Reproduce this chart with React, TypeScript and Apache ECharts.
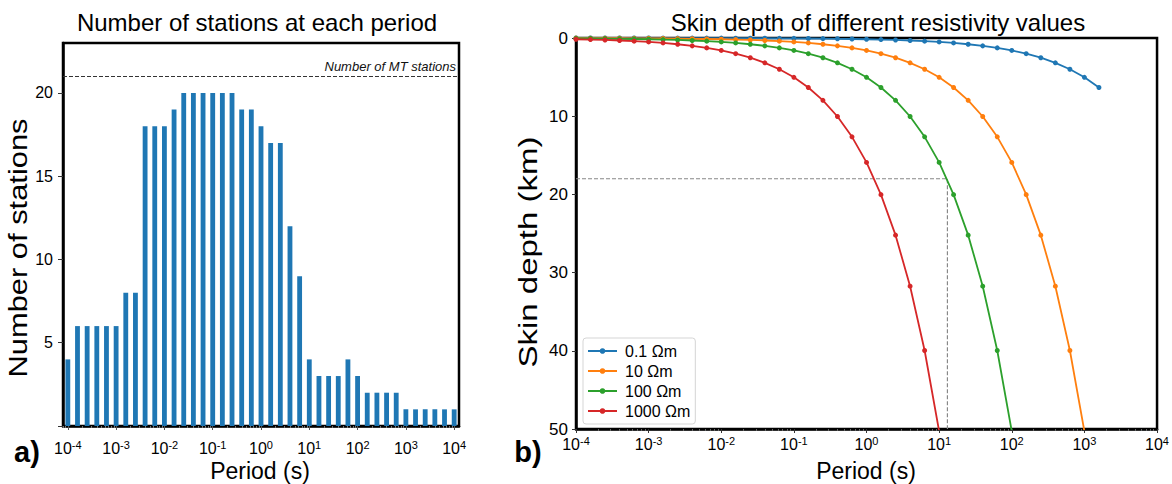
import React, { useEffect, useRef } from 'react';
import * as echarts from 'echarts';

// Periods (s), five per decade from 1e-4 to 1e4
const periods = [
  0.0001, 0.000158, 0.000251, 0.000398, 0.000631,
  0.001, 0.00158, 0.00251, 0.00398, 0.00631,
  0.01, 0.0158, 0.0251, 0.0398, 0.0631,
  0.1, 0.158, 0.251, 0.398, 0.631,
  1, 1.58, 2.51, 3.98, 6.31,
  10, 15.8, 25.1, 39.8, 63.1,
  100, 158, 251, 398, 631,
  1000, 1585, 2512, 3981, 6310,
  10000,
];

// Number of stations at each period (panel a)
const stationCounts = [
  4, 6, 6, 6, 6, 6, 8, 8, 18, 18, 18, 19, 20, 20, 20, 20, 20, 20, 19, 19,
  18, 17, 17, 12, 9, 4, 3, 3, 3, 4, 3, 2, 2, 2, 2, 1, 1, 1, 1, 1, 1,
];
const mtStations = 21;
const countTicks = [0, 5, 10, 15, 20];
const countLabels = [5, 10, 15, 20];

// Skin depth (km) at each period (panel b)
const depth01 = [
  0.002, 0.002, 0.003, 0.003, 0.004, 0.005, 0.006, 0.008, 0.01, 0.013,
  0.016, 0.02, 0.025, 0.032, 0.04, 0.05, 0.063, 0.08, 0.1, 0.126,
  0.159, 0.2, 0.252, 0.317, 0.4, 0.503, 0.633, 0.797, 1.004, 1.263,
  1.591, 2.003, 2.521, 3.174, 3.995, 5.03, 6.33,
];
const depth10 = [
  0.016, 0.02, 0.025, 0.032, 0.04, 0.05, 0.063, 0.08, 0.1, 0.126,
  0.159, 0.2, 0.252, 0.317, 0.4, 0.503, 0.633, 0.797, 1.004, 1.263,
  1.591, 2.003, 2.521, 3.174, 3.995, 5.03, 6.332, 7.972, 10.04, 12.64,
  15.91, 20.03, 25.21, 31.74, 39.96, 50.3,
];
const depth100 = [
  0.05, 0.063, 0.08, 0.1, 0.126, 0.159, 0.2, 0.252, 0.317, 0.4,
  0.503, 0.633, 0.797, 1.004, 1.263, 1.591, 2.003, 2.521, 3.174, 3.995,
  5.03, 6.332, 7.972, 10.04, 12.64, 15.91, 20.03, 25.21, 31.74, 39.96,
  50.3,
];
const depth1000 = [
  0.159, 0.2, 0.252, 0.317, 0.4, 0.503, 0.633, 0.797, 1.004, 1.263,
  1.591, 2.003, 2.521, 3.174, 3.995, 5.03, 6.332, 7.972, 10.04, 12.64,
  15.91, 20.03, 25.21, 31.74, 39.96, 50.3,
];
const seriesNames = ['0.1 Ωm', '10 Ωm', '100 Ωm', '1000 Ωm'];
const seriesColors = ['#1f77b4', '#ff7f0e', '#2ca02c', '#d62728'];
const seriesDepths = [depth01, depth10, depth100, depth1000];

// reference point marked with dashed lines
const refPeriod = 13;
const refDepth = 18;

// tick exponents
const majorExp = [-4, -3, -2, -1, 0, 1, 2, 3, 4];
const minorMult = [2, 3, 4, 5, 6, 7, 8, 9];

const FONT = "'Liberation Sans', Arial, Helvetica, sans-serif";

function minorTicks(lo: number, hi: number): number[] {
  const out: number[] = [];
  for (let e = -5; e <= 4; e++) {
    for (const m of minorMult) {
      const v = e + Math.log10(m);
      if (v > lo && v < hi) out.push(v);
    }
  }
  return out;
}

const supFormatter = (v: number) => `{b|10}{s|${Math.round(v)}}`;
const supRich = {
  b: { fontSize: 16, lineHeight: 19, color: '#000', fontFamily: FONT },
  s: { fontSize: 11, lineHeight: 12, color: '#000', verticalAlign: 'top', fontFamily: FONT },
};

export default function App() {
  const ref = useRef<HTMLDivElement>(null);
  useEffect(() => {
    if (!ref.current) return;
    const chart = echarts.init(ref.current, undefined, { renderer: 'svg' });

    const lineSeries = seriesNames.map((name, si) => ({
      name,
      type: 'line',
      xAxisIndex: 3,
      yAxisIndex: 1,
      data: seriesDepths[si].map((d, i) => [periods[i], d]),
      symbol: 'circle',
      symbolSize: 5,
      showSymbol: true,
      clip: true,
      color: seriesColors[si],
      lineStyle: { width: 1.8, color: seriesColors[si] },
      itemStyle: { color: seriesColors[si] },
      z: 3 + si,
    }));

    const option: any = {
      animation: false,
      textStyle: { fontFamily: FONT },
      grid: [
        { left: 63, top: 43, width: 396, height: 383, show: true, borderColor: '#000', borderWidth: 2.5, backgroundColor: 'rgba(0,0,0,0)', containLabel: false },
        { left: 576, top: 38, width: 583, height: 391, show: true, borderColor: '#000', borderWidth: 2.5, backgroundColor: 'rgba(0,0,0,0)', containLabel: false },
      ],
      xAxis: [
        { type: 'category', gridIndex: 0, data: periods.map(String), show: false, boundaryGap: true },
        {
          type: 'value', gridIndex: 0, min: -4.1, max: 4.1, position: 'bottom',
          axisLine: { show: true, onZero: false, lineStyle: { color: '#000', width: 2.5 } },
          splitLine: { show: false },
          axisTick: { show: true, customValues: majorExp, length: 4, lineStyle: { color: '#555', width: 1 } },
          axisLabel: { customValues: majorExp, formatter: supFormatter, rich: supRich, margin: 13 },
        },
        {
          type: 'value', gridIndex: 0, min: -4.1, max: 4.1, position: 'bottom',
          axisLine: { show: false, onZero: false }, splitLine: { show: false },
          axisTick: { show: true, customValues: minorTicks(-4.1, 4.1), length: 2, lineStyle: { color: '#777', width: 1 } },
          axisLabel: { show: false },
        },
        { type: 'log', gridIndex: 1, min: 0.0001, max: 10000, logBase: 10, show: false, axisLine: { onZero: false } },
        {
          type: 'value', gridIndex: 1, min: -4, max: 4, position: 'bottom',
          axisLine: { show: true, onZero: false, lineStyle: { color: '#000', width: 2.5 } },
          splitLine: { show: false },
          axisTick: { show: true, customValues: majorExp, length: 4, lineStyle: { color: '#333', width: 1 } },
          axisLabel: { customValues: majorExp, formatter: supFormatter, rich: supRich, margin: 6 },
        },
        {
          type: 'value', gridIndex: 1, min: -4, max: 4, position: 'bottom',
          axisLine: { show: false, onZero: false }, splitLine: { show: false },
          axisTick: { show: true, customValues: minorTicks(-4, 4), length: 2, lineStyle: { color: '#666', width: 1 } },
          axisLabel: { show: false },
        },
      ],
      yAxis: [
        {
          type: 'value', gridIndex: 0, min: 0, max: 23,
          axisLine: { show: true, onZero: false, lineStyle: { color: '#000', width: 2.5 } },
          axisTick: { show: true, length: 5, customValues: countTicks, lineStyle: { color: '#333' } },
          splitLine: { show: false },
          axisLabel: { fontSize: 16, color: '#000', margin: 10, customValues: countLabels },
        },
        {
          type: 'value', gridIndex: 1, min: 0, max: 50, interval: 10, inverse: true,
          axisLine: { show: true, onZero: false, lineStyle: { color: '#000', width: 2.5 } },
          axisTick: { show: true, length: 4, lineStyle: { color: '#333' } },
          splitLine: { show: false },
          axisLabel: { fontSize: 17, color: '#000', margin: 8 },
        },
      ],
      legend: {
        data: seriesNames,
        orient: 'vertical',
        left: 583,
        top: 338,
        itemWidth: 29,
        itemHeight: 7,
        itemGap: 4,
        padding: [5, 5, 5, 4],
        backgroundColor: '#fff',
        borderColor: '#d5d5d5',
        borderWidth: 1,
        borderRadius: 3,
        textStyle: { fontSize: 16, color: '#000', fontFamily: FONT, padding: [0, 0, 0, 3] },
      },
      series: [
        {
          type: 'bar',
          xAxisIndex: 0,
          yAxisIndex: 0,
          data: stationCounts,
          barWidth: '50%',
          itemStyle: { color: '#1f77b4' },
          markLine: {
            silent: true,
            symbol: 'none',
            data: [{ yAxis: mtStations }],
            lineStyle: { type: [4, 2], color: '#333', width: 1.2 },
            label: { position: 'insideEndTop', formatter: 'Number of MT stations', fontStyle: 'italic', fontSize: 13, color: '#111', distance: 3 },
          },
        },
        {
          type: 'line',
          name: 'ref',
          xAxisIndex: 3,
          yAxisIndex: 1,
          data: [[0.0001, refDepth], [refPeriod, refDepth], [refPeriod, 50]],
          symbol: 'none',
          silent: true,
          lineStyle: { type: [4, 2], color: '#888', width: 1.2 },
          z: 1,
        },
        ...lineSeries,
      ],
      graphic: [
        { type: 'text', x: 257, y: 22, style: { text: 'Number of stations at each period', fontSize: 24, fontFamily: FONT, fill: '#000', align: 'center', verticalAlign: 'middle' } },
        { type: 'text', x: 878, y: 22, style: { text: 'Skin depth of different resistivity values', fontSize: 24, fontFamily: FONT, fill: '#000', align: 'center', verticalAlign: 'middle' } },
        { type: 'text', x: 260, y: 471, style: { text: 'Period (s)', fontSize: 23, fontFamily: FONT, fill: '#000', align: 'center', verticalAlign: 'middle' } },
        { type: 'text', x: 866, y: 471, style: { text: 'Period (s)', fontSize: 23, fontFamily: FONT, fill: '#000', align: 'center', verticalAlign: 'middle' } },
        { type: 'text', x: 19, y: 248, rotation: Math.PI / 2, scaleX: 1.235, style: { text: 'Number of stations', fontSize: 25, fontFamily: FONT, fill: '#000', align: 'center', verticalAlign: 'middle' } },
        { type: 'text', x: 528, y: 252, rotation: Math.PI / 2, scaleX: 1.32, style: { text: 'Skin depth (km)', fontSize: 25, fontFamily: FONT, fill: '#000', align: 'center', verticalAlign: 'middle' } },
        { type: 'text', x: 27, y: 452, style: { text: 'a)', fontSize: 29, fontWeight: 'bold', fontFamily: FONT, fill: '#000', align: 'center', verticalAlign: 'middle' } },
        { type: 'text', x: 528, y: 452, style: { text: 'b)', fontSize: 29, fontWeight: 'bold', fontFamily: FONT, fill: '#000', align: 'center', verticalAlign: 'middle' } },
      ],
    };
    chart.setOption(option);
    return () => chart.dispose();
  }, []);
  return (
    <div
      ref={ref}
      style={{ position: 'fixed', left: 0, top: 0, width: 1172, height: 484, background: '#fff' }}
    />
  );
}
